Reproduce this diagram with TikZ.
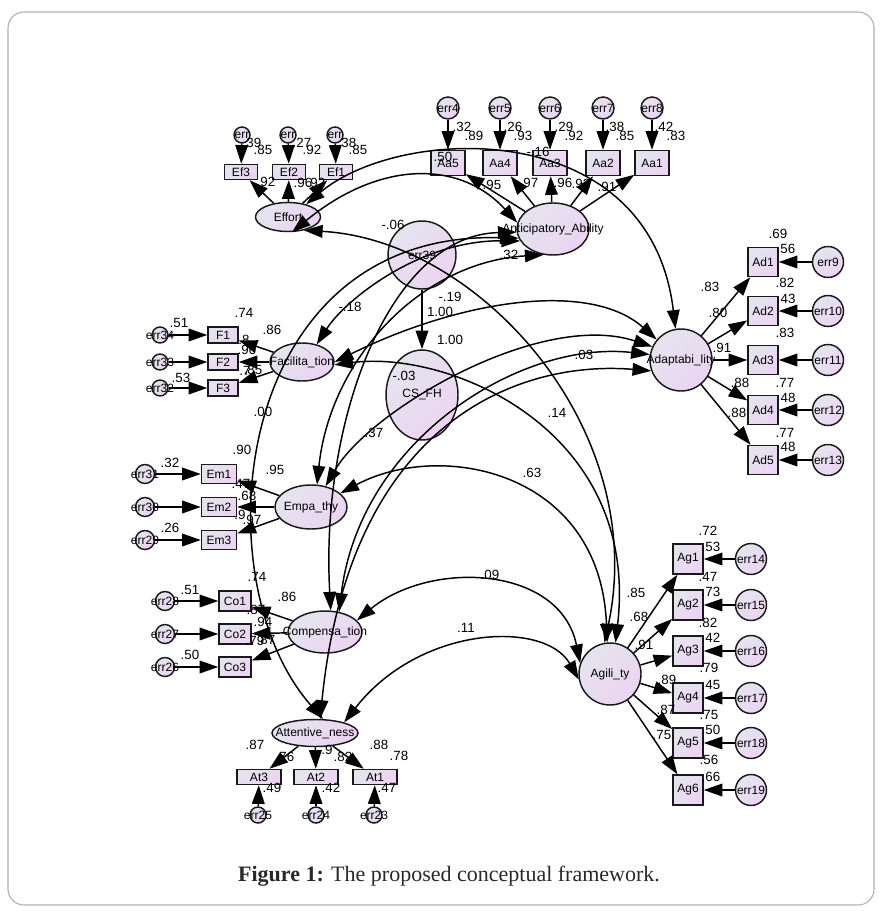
\documentclass[tikz,border=0pt]{standalone}
\usepackage{fontspec}
\setmainfont{Liberation Sans}
\newfontfamily\capfont{Liberation Serif}
\usetikzlibrary{shapes.geometric,arrows.meta}
\definecolor{nfA}{RGB}{228,228,238}
\definecolor{nfB}{RGB}{236,212,242}
\definecolor{framec}{RGB}{175,175,175}
\definecolor{capc}{RGB}{40,40,40}
\begin{document}
\begin{tikzpicture}[x=0.75pt,y=-0.75pt,
  base/.style={draw=black!90, line width=1.1pt, inner sep=0pt, top color=nfA, bottom color=nfB, shading angle=45},
  bx/.style 2 args={base, rectangle, minimum width=#1*0.75pt, minimum height=#2*0.75pt},
  ec/.style={base, circle, minimum size=#1*0.75pt},
  lv/.style 2 args={base, ellipse, minimum width=#1*0.75pt, minimum height=#2*0.75pt},
  every label/.style={font=\fontsize{9}{9}\selectfont, inner sep=0pt, text=black},
  num/.style={font=\fontsize{10}{10}\selectfont, inner sep=0pt},
  arr/.style={line width=1.1pt, -{Triangle[length=14pt,width=9.5pt]}},
  cov/.style={line width=1.1pt, {Triangle[length=14pt,width=9.5pt]}-{Triangle[length=14pt,width=9.5pt]}},
]
\useasboundingbox (0,0) rectangle (882,912);
\draw[framec, line width=0.8pt, rounded corners=12pt] (8,12) rectangle (874,905);

% ---------- Effort ----------
\node[ec=16,label=center:err] (e1) at (242,135) {};
\node[ec=16,label=center:err] (e2) at (288,135) {};
\node[ec=16,label=center:err] (e3) at (335,135) {};
\node[bx={33}{15},label=center:Ef3] (Ef3) at (241,172) {};
\node[bx={33}{15},label=center:Ef2] (Ef2) at (289,172) {};
\node[bx={33}{15},label=center:Ef1] (Ef1) at (336,172) {};
\node[lv={65}{29},label=center:Effort] (Eff) at (288,217) {};

% ---------- Anticipatory ability ----------
\node[ec=22,label=center:err4] (e4) at (448,108) {};
\node[ec=22,label=center:err5] (e5) at (500,108) {};
\node[ec=22,label=center:err6] (e6) at (550,108) {};
\node[ec=22,label=center:err7] (e7) at (603,108) {};
\node[ec=22,label=center:err8] (e8) at (652,108) {};
\node[bx={34}{25},label=center:Aa5] (Aa5) at (448,163) {};
\node[bx={34}{25},label=center:Aa4] (Aa4) at (500,163) {};
\node[bx={34}{25},label=center:Aa3] (Aa3) at (550,163) {};
\node[bx={34}{25},label=center:Aa2] (Aa2) at (603,163) {};
\node[bx={34}{25},label=center:Aa1] (Aa1) at (652,163) {};
\node[lv={72}{52},label=center:Anticipatory\_Ability] (AA) at (553,229) {};

% ---------- Adaptability ----------
\node[ec=62,label=center:Adaptabi\_lity] (Adp) at (681,360) {};
\foreach \i/\y in {1/262,2/311,3/360,4/410,5/460}{
  \node[bx={30}{29},label=center:Ad\i] (Ad\i) at (763,\y) {};
}
\foreach \i/\y in {9/262,10/311,11/360,12/410,13/460}{
  \node[ec=31,label=center:err\i] (e\i) at (828,\y) {};
}

% ---------- Facilitation ----------
\node[ec=16,label=center:err34] (e34) at (160,335) {};
\node[ec=16,label=center:err33] (e33) at (160,362) {};
\node[ec=16,label=center:err32] (e32) at (160,388) {};
\node[bx={30}{16},label=center:F1] (F1) at (223,335) {};
\node[bx={30}{16},label=center:F2] (F2) at (223,362) {};
\node[bx={30}{16},label=center:F3] (F3) at (223,388) {};
\node[lv={64}{38},label=center:Facilita\_tion] (Fac) at (302,362) {};

% ---------- Empathy ----------
\node[ec=19,label=center:err31] (e31) at (145,474) {};
\node[ec=19,label=center:err30] (e30) at (145,507) {};
\node[ec=19,label=center:err29] (e29) at (145,540) {};
\node[bx={35}{19},label=center:Em1] (Em1) at (219,474) {};
\node[bx={35}{19},label=center:Em2] (Em2) at (219,507) {};
\node[bx={35}{19},label=center:Em3] (Em3) at (219,540) {};
\node[lv={72}{44},label=center:Empa\_thy] (Emp) at (311,507) {};

% ---------- Compensation ----------
\node[ec=19,label=center:err28] (e28) at (165,601) {};
\node[ec=19,label=center:err27] (e27) at (165,634) {};
\node[ec=19,label=center:err26] (e26) at (165,667) {};
\node[bx={32}{20},label=center:Co1] (Co1) at (235,601) {};
\node[bx={32}{20},label=center:Co2] (Co2) at (235,634) {};
\node[bx={32}{20},label=center:Co3] (Co3) at (235,667) {};
\node[lv={74}{42},label=center:Compensa\_tion] (Cmp) at (325,632) {};

% ---------- Attentiveness ----------
\node[lv={86}{27},label=center:Attentive\_ness] (Att) at (315,733) {};
\node[bx={44}{15},label=center:At3] (At3) at (259,777) {};
\node[bx={44}{15},label=center:At2] (At2) at (316,777) {};
\node[bx={44}{15},label=center:At1] (At1) at (375,777) {};
\node[ec=16,label=center:err25] (e25) at (258,815) {};
\node[ec=16,label=center:err24] (e24) at (316,815) {};
\node[ec=16,label=center:err23] (e23) at (374,815) {};

% ---------- Agility ----------
\node[ec=62,label=center:Agili\_ty] (Agl) at (610,674) {};
\foreach \i/\y in {1/559,2/605,3/651,4/698,5/743,6/790}{
  \node[bx={30}{30},label=center:Ag\i] (Ag\i) at (688,\y) {};
}
\foreach \i/\y in {14/559,15/605,16/651,17/698,18/743,19/790}{
  \node[ec=31,label=center:err\i] (e\i) at (751,\y) {};
}

% ---------- CS_FH ----------
\node[ec=68,label=center:err39] (e39) at (422,255) {};
\node[lv={72}{90},label=center:CS\_FH] (CS) at (422,395) {};

% ---------- measurement arrows ----------
\foreach \a/\b in {e1/Ef3,e2/Ef2,e3/Ef1,e4/Aa5,e5/Aa4,e6/Aa3,e7/Aa2,e8/Aa1,
  e9/Ad1,e10/Ad2,e11/Ad3,e12/Ad4,e13/Ad5,e34/F1,e33/F2,e32/F3,
  e31/Em1,e30/Em2,e29/Em3,e28/Co1,e27/Co2,e26/Co3,e25/At3,e24/At2,e23/At1,
  e14/Ag1,e15/Ag2,e16/Ag3,e17/Ag4,e18/Ag5,e19/Ag6}
  \draw[arr] (\a) -- (\b);
\foreach \a/\b in {Eff/Ef3,Eff/Ef2,Eff/Ef1,AA/Aa5,AA/Aa4,AA/Aa3,AA/Aa2,AA/Aa1,
  Adp/Ad1,Adp/Ad2,Adp/Ad3,Adp/Ad4,Adp/Ad5,Fac/F1,Fac/F2,Fac/F3,
  Emp/Em1,Emp/Em2,Emp/Em3,Cmp/Co1,Cmp/Co2,Cmp/Co3,Att/At3,Att/At2,Att/At1,
  Agl/Ag1,Agl/Ag2,Agl/Ag3,Agl/Ag4,Agl/Ag5,Agl/Ag6}
  \draw[arr] (\a) -- (\b);
\draw[arr] (e39) -- (CS);

% ---------- covariances ----------
\draw[cov] (Eff.35) .. controls (400,125) and (650,115) .. (Adp.100);
\draw[cov] (Eff.-75) .. controls (380,160) and (460,160) .. (AA.170);
\draw[cov] (Eff.-40) .. controls (480,240) and (650,430) .. (Agl.100);
\draw[cov] (Fac.50) .. controls (345,300) and (420,240) .. (AA.200);
\draw[cov] (Emp.75) .. controls (330,360) and (420,262) .. (AA.250);
\draw[cov] (Cmp.75) .. controls (320,420) and (390,235) .. (AA.185);
\draw[cov] (Att.60) .. controls (200,580) and (230,230) .. (AA.195);
\draw[cov] (Fac.0) .. controls (460,300) and (590,280) .. (Adp.140);
\draw[cov] (Emp.55) .. controls (370,410) and (540,310) .. (Adp.155);
\draw[cov] (Cmp.55) .. controls (360,440) and (520,340) .. (Adp.170);
\draw[cov] (Att.70) .. controls (350,420) and (520,360) .. (Adp.200);
\draw[cov] (Fac.-5) .. controls (450,350) and (640,430) .. (Agl.80);
\draw[cov] (Emp.25) .. controls (440,440) and (600,470) .. (Agl.95);
\draw[cov] (Cmp.20) .. controls (430,560) and (560,565) .. (Agl.160);
\draw[cov] (Att.20) .. controls (420,625) and (545,620) .. (Agl.190);

% ---------- numbers ----------
\foreach \x/\y/\t [count=\i] in {
  252/143/.39, 263/150/.85, 302/143/.27, 312/150/.92, 347/143/.38, 358/150/.85,
  266/182/.92, 303/183/.96, 316/183/.92,
  462/127/.32, 474/136/.89, 513/127/.26, 523/136/.93, 564/127/.29, 574/136/.92,
  615/127/.38, 625/136/.85, 664/127/.42, 676/136/.83, 443/157/.50, 538/152/-.16,
  492/185/.95, 529/183/.97, 563/183/.96, 581/184/.92, 607/187/.91,
  778/234/.69, 786/249/.56, 785/283/.82, 788/299/43, 785/333/.83, 785/383/.77,
  788/398/48, 785/433/.77, 788/447/48,
  710/287/.83, 718/313/.80, 722/348/.91, 740/383/.88, 737/413/.88,
  179/323/.51, 244/313/.74, 272/330/.86, 244/340/.8, 247/350/.90, 245/371/.7,
  253/370/.85, 181/378/.53,
  170/463/.32, 242/450/.90, 275/470/.95, 241/484/.47, 247/496/.68, 240/515/.9,
  252/520/.97, 170/528/.26,
  190/590/.51, 257/577/.74, 287/597/.86, 256/610/.87, 263/622/.94, 255/641/.79,
  266/640/.87, 190/655/.50,
  255/745/.87, 285/757/.76, 327/750/.9, 343/757/.82, 379/745/.88, 399/756/.78,
  272/788/.49, 331/788/.42, 387/788/.47,
  708/531/.72, 711/547/.53, 708/577/.47, 711/592/.73, 708/623/.82, 711/638/.42,
  709/668/.79, 711/685/.45, 709/715/.75, 711/730/.50, 709/760/.56, 711/777/.66,
  636/593/.85, 639/617/.68, 644/645/.91, 667/680/.89, 666/710/.87, 662/735/.75,
  393/225/-.06, 509/255/.32, 350/307/-.18, 440/312/1.00, 450/297/-.19,
  450/340/1.00, 404/376/-.03, 584/355/.03, 557/413/.14, 374/433/.37, 263/412/.00,
  532/473/.63, 490/575/.09, 466/628/.11}
  \node[num] (n\i) at (\x,\y) {\t};

% ---------- caption ----------
\node[font=\capfont\fontsize{16.5}{16.5}\selectfont, text=capc, inner sep=0pt] (cap) at (449,876)
  {\textbf{Figure 1:} The proposed conceptual framework.};
\end{tikzpicture}
\end{document}
